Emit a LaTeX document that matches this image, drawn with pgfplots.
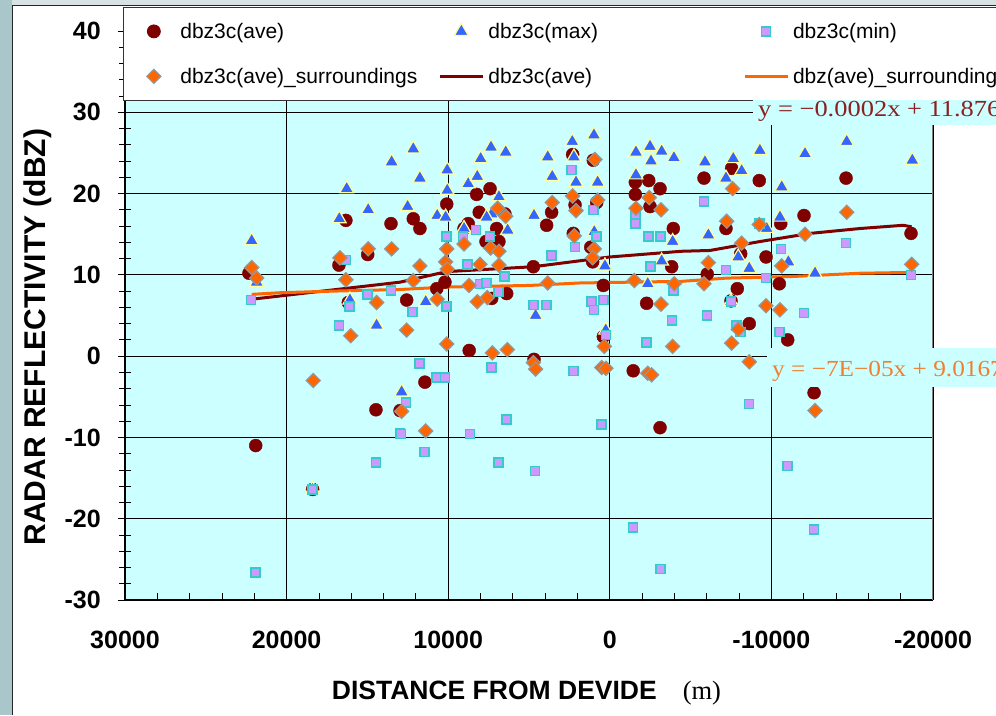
\documentclass[border=0pt]{standalone}
\usepackage{pgfplots}
\usepackage{pgfplotstable}
\pgfplotsset{compat=1.18}
\usepackage{fontspec}
\setmainfont{Liberation Sans}
\newfontfamily\eqfont{Liberation Serif}

\definecolor{plotbg}{HTML}{CCFFFF}
\definecolor{avecol}{HTML}{800000}
\definecolor{maxfill}{HTML}{3366FF}
\definecolor{maxedge}{HTML}{FFFF99}
\definecolor{minfill}{HTML}{CC99FF}
\definecolor{minedge}{HTML}{33CCCC}
\definecolor{surfill}{HTML}{FF6600}
\definecolor{suredge}{HTML}{969696}
\definecolor{eqred}{HTML}{8B2020}
\definecolor{eqorange}{HTML}{F08030}
\definecolor{sidebar}{HTML}{A9C6CA}
\definecolor{topbar}{HTML}{D6E2E4}

% dbz3c(ave): mean reflectivity of each cell
\pgfplotstableread{
x y
22330 10.2
21910 -11.0
16330 16.7
16760 11.2
14980 12.5
13540 16.3
16180 6.6
14470 -6.6
18390 -16.4
12160 16.9
11750 15.7
10090 18.7
8240 19.9
7410 20.6
8080 17.7
8760 16.3
9020 15.7
7000 15.7
6490 17.5
7660 14.1
6860 14.1
3600 17.7
3910 16.1
4730 11.0
2300 24.8
2150 18.6
2260 15.1
1020 24.1
810 18.9
1180 13.4
1060 11.6
400 8.7
-1580 21.4
-2410 21.6
-3110 20.6
-1580 19.9
-2490 18.4
-3930 15.7
-3830 11.0
12570 6.9
10710 8.3
10200 9.1
7310 7.1
6380 7.7
-2280 6.5
8700 0.7
400 2.4
4690 -0.4
-1450 -1.8
11440 -3.2
12980 -6.7
-3110 -8.8
-5830 21.9
-7540 23.1
-9250 21.6
-14620 21.9
-12020 17.3
-7190 15.7
-10580 16.3
-18640 15.1
-8100 12.6
-9670 12.2
-6030 10.1
-7890 8.3
-10490 8.9
-7500 6.8
-8630 4.0
-11010 2.0
-12640 -4.5
}\avedata

% dbz3c(max)
\pgfplotstableread{
x y
22160 14.2
21850 9.1
16280 20.6
16740 16.9
14950 18.0
13500 23.9
16080 6.9
14430 3.8
12160 25.5
11750 21.9
10060 22.9
10060 20.4
12510 18.4
10680 17.3
10160 17.1
8760 21.2
8200 22.1
7990 24.3
7350 25.7
6440 25.1
6860 19.6
7310 17.5
7620 17.1
6320 15.5
9020 15.7
3840 24.5
3560 22.1
4690 17.3
2320 26.4
2220 24.5
2090 21.4
980 27.2
750 21.4
960 15.3
300 11.1
-1620 25.1
-2490 25.8
-3210 25.2
-2550 24.0
-3970 24.4
-1620 22.3
-3890 14.1
-3210 11.7
-2350 8.9
11390 6.7
4590 5.0
250 3.2
-5890 23.9
-7640 24.3
-9290 25.3
-7190 21.9
-8160 22.8
-12080 24.9
-14660 26.4
-18720 24.1
-10640 20.8
-10530 17.1
-9710 15.7
-6100 14.9
-7950 12.2
-8630 10.8
-11050 11.6
-12700 10.2
-7500 6.7
12880 -4.4
18390 -16.4
}\maxdata

% dbz3c(min)
\pgfplotstableread{
x y
22200 6.9
21910 -26.6
16330 11.8
14980 7.6
13540 8.1
16120 6.1
16760 3.8
12980 -9.5
14470 -13.1
18390 -16.4
2360 22.9
10090 14.7
9070 14.7
8280 15.5
7410 14.7
8790 11.3
6530 9.8
8030 8.9
7620 9.0
6900 7.9
10090 6.1
12220 5.4
3600 12.4
2150 13.4
1020 18.0
810 14.7
-1580 17.5
-1580 16.3
-2410 14.7
-3150 14.7
-2530 11.0
-3930 8.1
4730 6.3
3910 6.3
1120 6.7
980 5.7
400 6.9
-3850 4.4
-2280 1.7
250 2.6
11790 -0.9
7310 -1.4
2260 -1.8
10710 -2.6
10200 -2.6
12610 -5.7
12920 -9.6
8650 -9.6
6380 -7.8
500 -8.4
11480 -11.8
6900 -13.1
4630 -14.1
-1450 -21.1
-3150 -26.2
-5830 19.0
-9250 16.3
-10580 13.2
-14620 13.9
-7190 10.6
-9670 9.6
-18640 10.0
-7500 6.7
-6030 5.0
-12020 5.3
-7850 3.8
-8100 3.0
-10490 3.0
-8610 -5.9
-11010 -13.5
-12640 -21.3
}\mindata

% dbz3c(ave)_surroundings
\pgfplotstableread{
x y
22160 10.9
21850 9.6
16700 12.1
14950 13.2
13500 13.2
16330 9.4
14430 6.6
16030 2.5
18350 -3.0
11750 11.1
10090 13.2
10160 11.6
10060 10.7
9020 13.8
8030 11.3
7370 13.3
6860 12.9
6860 11.2
6940 18.2
6440 17.2
3560 18.9
2300 19.7
2090 17.9
2200 14.8
920 24.2
750 19.2
960 13.2
1060 12.1
-2440 19.5
-1620 18.2
-3170 18.0
-1520 9.3
-3990 8.9
12160 9.3
8710 8.7
10680 7.0
8200 6.7
7580 7.2
3840 9.0
-3170 6.4
12570 3.2
10090 1.5
7270 0.4
6340 0.8
340 1.2
-3890 1.2
4730 -0.8
4590 -1.6
500 -1.4
240 -1.5
-2350 -2.1
-2590 -2.3
12880 -6.8
11390 -9.2
-7600 20.6
-7230 16.6
-9250 16.2
-14660 17.7
-8160 13.9
-12080 15.0
-6100 11.5
-10640 11.1
-18680 11.3
-5830 8.9
-9670 6.2
-10530 5.7
-7950 3.3
-7540 1.6
-8630 -0.7
-12700 -6.7
}\surdata

% trend of dbz3c(ave)
\pgfplotstableread{
x y
22160 7.0
12980 9.1
10090 10.4
4730 11.0
0 12.2
-4420 12.9
-6200 13.0
-9290 14.1
-12390 15.1
-15480 15.7
-18160 16.1
-18680 15.9
}\avetrend

% trend of dbz(ave)_surroundings
\pgfplotstableread{
x y
22160 7.6
20410 7.8
17110 8.0
12980 8.2
10090 8.5
4940 8.7
1850 9.0
-4420 9.2
-7230 9.6
-11350 9.8
-15480 10.2
-18680 10.3
}\surtrend

\pgfplotsset{
  markentry/.style={legend image code/.code={
    \path[draw=none, fill=none] (0pt,-1pt) rectangle (43pt,1pt);
    \draw[##1, only marks] plot coordinates {(21.5pt,0pt)};}},
  lineentry/.style={legend image code/.code={
    \path[draw=none, fill=none] (0pt,-1pt) rectangle (43pt,1pt);
    \draw[##1, line width=3pt] (0pt,0pt) -- (43pt,0pt);}},
}

\begin{document}
\begin{tikzpicture}
\path[use as bounding box, clip] (0,0) rectangle (996pt,715pt);
\fill[white] (0,0) rectangle (996pt,715pt);
\fill[sidebar] (0,0) rectangle (12pt,715pt);
\fill[topbar] (12pt,709pt) rectangle (996pt,715pt);
\draw[black!85, line width=1pt] (12.5pt,0) -- (12.5pt,709pt) -- (996pt,709pt);

\begin{axis}[
  at={(125pt,115pt)}, anchor=south west,
  scale only axis, width=808pt, height=569pt,
  x dir=reverse,
  xmin=-20000, xmax=30000, ymin=-30, ymax=40,
  axis background/.style={fill=plotbg},
  axis line style={black, line width=1pt},
  scaled x ticks=false, scaled y ticks=false,
  xtick={-20000,-10000,0,10000,20000,30000},
  xticklabels={-20000,-10000,0,10000,20000,30000},
  ytick={-30,-20,-10,0,10,20,30,40},
  yticklabels={-30,-20,-10,0,10,20,30,40},
  minor x tick num=4,
  extra y ticks={-28,-26,-24,-22,-18,-16,-14,-12,-8,-6,-4,-2,2,4,6,8,12,14,16,18,22,24,26,28,32,34,36,38},
  extra y tick labels={},
  extra y tick style={grid=none, major tick length=12pt},
  tick pos=left,
  xtick align=inside,
  ytick align=center,
  major tick length=14pt,
  minor tick length=7pt,
  tick style={black, line width=0.8pt},
  xmajorgrids, ymajorgrids,
  major grid style={black, line width=0.8pt},
  tick label style={font=\fontsize{25}{25}\selectfont\bfseries},
  yticklabel style={anchor=east, inner sep=0pt, xshift=-17pt},
  xticklabel style={anchor=north, inner sep=0pt, yshift=-31pt},
  xlabel={DISTANCE FROM DEVIDE\hspace{26pt}{\eqfont\mdseries (m)}},
  xlabel style={at={(axis description cs:0.4969,-0.1757)}, anchor=base,
    font=\fontsize{26.5}{26.5}\selectfont\bfseries},
  ylabel={RADAR REFLECTIVITY (dBZ)},
  ylabel style={at={(axis description cs:-0.1077,0.4622)}, anchor=center,
    font=\fontsize{30}{30}\selectfont\bfseries},
  legend columns=3,
  legend cell align=left,
  legend style={at={(-0.0025,1.0422)}, anchor=north west,
    draw=black!80, line width=0.8pt, fill=white,
    inner xsep=9pt, inner ysep=14pt, row sep=25pt,
    font=\fontsize{21}{21}\selectfont,
    nodes={inner sep=0pt, text height=17pt, text depth=3pt},
    /tikz/column 1/.style={column sep=5pt},
    /tikz/column 2/.style={column sep=21pt},
    /tikz/column 3/.style={column sep=4pt},
    /tikz/column 4/.style={column sep=145pt},
    /tikz/column 5/.style={column sep=4pt}},
]
\addplot[markentry, only marks, mark=*, mark size=6.5pt,
  mark options={fill=avecol, draw=avecol}] table {\avedata};
\addlegendentry{dbz3c(ave)}
\addplot[markentry, only marks, mark=triangle*, mark size=8pt,
  mark options={fill=maxfill, draw=maxedge, line width=1.2pt}] table {\maxdata};
\addlegendentry{dbz3c(max)}
\addplot[markentry, only marks, mark=square*, mark size=4.5pt,
  mark options={fill=minfill, draw=minedge, line width=1.5pt}] table {\mindata};
\addlegendentry{dbz3c(min)}
\addplot[markentry, only marks, mark=square*, mark size=5pt,
  mark options={fill=surfill, draw=suredge, line width=1.2pt, rotate=45}] table {\surdata};
\addlegendentry{dbz3c(ave)\_surroundings}
\addplot[lineentry, avecol, line width=3pt, no marks, line join=round] table {\avetrend};
\addlegendentry{dbz3c(ave)}
\addplot[lineentry, surfill, line width=3pt, no marks, line join=round] table {\surtrend};
\addlegendentry{dbz(ave)\_surroundings}
\draw[black!50, line width=1pt] (rel axis cs:1,0) -- (rel axis cs:1,1);
\end{axis}

% trend line equations
\fill[plotbg] (753pt,590pt) rectangle (1000pt,615pt);
\node[anchor=base west, inner sep=0pt, text=eqred, xscale=1.15,
  font=\eqfont\fontsize{23}{23}\selectfont] at (758pt,598pt) {y = −0.0002x + 11.876};
\fill[plotbg] (767pt,328pt) rectangle (1000pt,367pt);
\node[anchor=base west, inner sep=0pt, text=eqorange, xscale=1.1,
  font=\eqfont\fontsize{23}{23}\selectfont] at (772pt,338pt) {y = −7E−05x + 9.0167};
\end{tikzpicture}
\end{document}
